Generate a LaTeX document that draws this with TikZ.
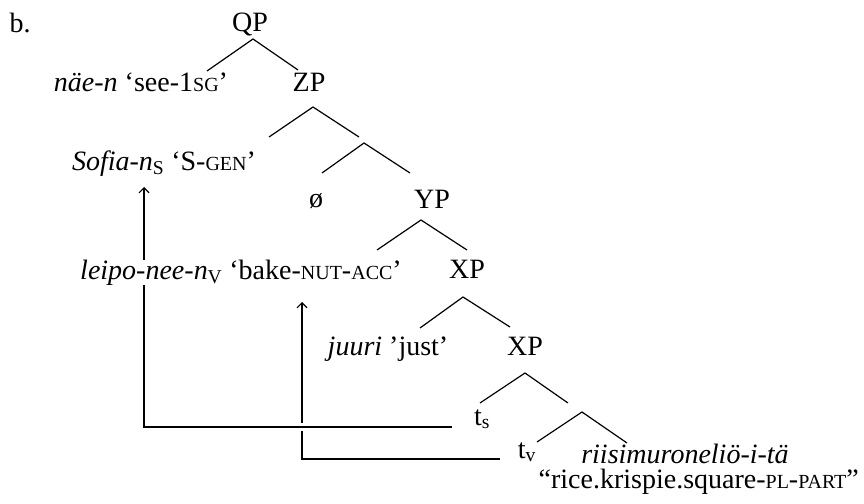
\documentclass[tikz,border=0pt]{standalone}
\usepackage{fontspec}
\setmainfont{Liberation Serif}
\usetikzlibrary{calc,arrows.meta,backgrounds}

\newcommand{\smc}[1]{{\fontsize{20}{20}\selectfont #1}}
\newcommand{\sbs}[1]{\textsubscript{#1}}

\tikzset{
  lbl/.style={inner sep=0pt, anchor=base},
  branch/.style={line width=1.2pt},
  trace/.style={line width=1.1pt, -{Straight Barb[length=5pt,width=10pt]}},
}

\begin{document}
\begin{tikzpicture}[x=1pt, y=-1pt, font=\fontsize{28}{30}\selectfont]
  \useasboundingbox (0,0) rectangle (864,503);

  \node [lbl] (ex) at (20, 33) {b.};

  % labels of the tree
  \node [lbl] (QP) at (250, 32) {QP};
  \node [lbl] (nae) at (141, 91) {\textit{näe-n} ‘see-1\smc{SG}’};
  \node [lbl] (ZP) at (309, 91) {ZP};
  \node [lbl] (sofia) at (164, 170) {\textit{Sofia-n}\sbs{S} ‘S-\smc{GEN}’};
  \coordinate (zbar) at (364, 143);
  \node [lbl] (empty) at (316, 207) {ø};
  \node [lbl] (YP) at (432, 208) {YP};
  \node [lbl, fill=white] (leipo) at (241, 279) {\textit{leipo-nee-n}\sbs{V} ‘bake-\smc{NUT}-\smc{ACC}’};
  \node [lbl] (XPa) at (467, 278) {XP};
  \node [lbl] (juuri) at (388, 355) {\textit{juuri} ’just’};
  \node [lbl] (XPb) at (525, 355) {XP};
  \node [lbl] (ts) at (482, 425) {t\sbs{s}};
  \coordinate (tbar) at (582, 412);
  \node [lbl] (tv) at (527, 458) {t\sbs{v}};
  \node [lbl] (riisi) at (685, 463) {\textit{riisimuroneliö-i-tä}};
  \node [lbl, anchor=base east] (rice) at (859, 488) {“rice.krispie.square-\smc{PL}-\smc{PART}”};

  % branches
  \draw [branch] ($(nae.base)+(66,-20)$) -- ($(QP.base)+(3,7)$) -- ($(ZP.base)+(-11,-21)$);
  \draw [branch] ($(sofia.base)+(105,-33)$) -- ($(ZP.base)+(4,16)$) -- ($(zbar)+(-5,-6)$);
  \draw [branch] ($(empty.base)+(6,-34)$) -- (zbar) -- ($(YP.base)+(-22,-35)$);
  \draw [branch] ($(leipo.base)+(136,-29)$) -- ($(YP.base)+(-11,12)$) -- ($(XPa.base)+(0,-28)$);
  \draw [branch] ($(juuri.base)+(32,-27)$) -- ($(XPa.base)+(-4,19)$) -- ($(XPb.base)+(-15,-28)$);
  \draw [branch] ($(ts.base)+(-2,-22)$) -- ($(XPb.base)+(0,18)$) -- ($(tbar)+(-14,-9)$);
  \draw [branch] ($(tv.base)+(10,-16)$) -- (tbar) -- ($(riisi.base)+(-58,-20)$);

  % movement
  \begin{scope}[on background layer]
    \draw [trace] ($(tv.base)+(-27,1)$) -| ($(leipo.base)+(61,23)$);
    \draw [trace, preaction={draw, white, line width=8pt, -}] ($(ts.base)+(-30,2)$) -| ($(sofia.base)+(-20,17)$);
  \end{scope}
\end{tikzpicture}
\end{document}
